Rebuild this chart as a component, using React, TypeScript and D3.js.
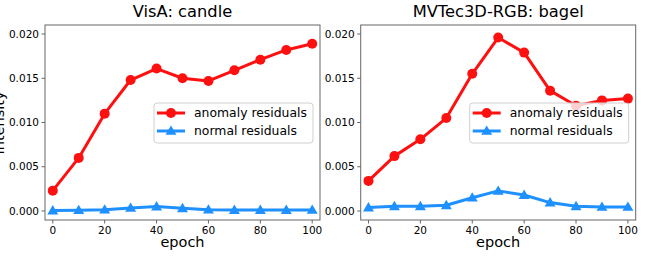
import React from 'react';
import * as d3 from 'd3';

// epochs shared by both panels
const epochs = [0, 10, 20, 30, 40, 50, 60, 70, 80, 90, 100];

// VisA: candle
const visaAnomaly = [0.0023, 0.0060, 0.0110, 0.0148, 0.0161, 0.0150, 0.0147, 0.0159, 0.0171, 0.0182, 0.0189];
const visaNormal = [0.00004, 0.00008, 0.00015, 0.00035, 0.0005, 0.0003, 0.00015, 0.0001, 0.0001, 0.0001, 0.00012];

// MVTec3D-RGB: bagel
const bagelAnomaly = [0.0034, 0.0062, 0.0081, 0.0105, 0.0155, 0.0196, 0.0179, 0.0136, 0.0119, 0.0125, 0.0127];
const bagelNormal = [0.00038, 0.00053, 0.00053, 0.00064, 0.0015, 0.00227, 0.0018, 0.00095, 0.00053, 0.00045, 0.00045];

const yTickValues = [0, 0.005, 0.01, 0.015, 0.02];
const xTickValues = [0, 20, 40, 60, 80, 100];
const legendLabels = ['anomaly residuals', 'normal residuals'];

const RED = '#ff1010';
const BLUE = '#1e90ff';
const AXIS = '#666';
const FONT = 'DejaVu Sans, sans-serif';

type PanelProps = {
  title: string;
  left: number;
  anomaly: number[];
  normal: number[];
};

const triangle = (cx: number, cy: number, s: number) =>
  `M${cx},${cy - s} L${cx + s},${cy + s * 0.7} L${cx - s},${cy + s * 0.7} Z`;

function Panel({ title, left, anomaly, normal }: PanelProps) {
  const width = 275;
  const top = 25;
  const bottom = 220;
  const right = left + width;

  const x = d3.scaleLinear().domain([-3, 103]).range([left, right]);
  const y = d3.scaleLinear().domain([-0.00102, 0.02102]).range([bottom, top]);
  const fmt = d3.format('.3f');

  const line = d3.line<number>()
    .x((d, i) => x(epochs[i]))
    .y(d => y(d));

  const lx = right - 166;
  const ly = 103;

  return (
    <g>
      <text x={(left + right) / 2} y={17} textAnchor="middle" fontSize={16.3} fontFamily={FONT}>{title}</text>

      {/* series */}
      <path d={line(anomaly) || ''} fill="none" stroke={RED} strokeWidth={3} strokeLinejoin="round" />
      {anomaly.map((d, i) => (
        <circle key={'a' + i} cx={x(epochs[i])} cy={y(d)} r={5} fill={RED} />
      ))}
      <path d={line(normal) || ''} fill="none" stroke={BLUE} strokeWidth={3} strokeLinejoin="round" />
      {normal.map((d, i) => (
        <path key={'n' + i} d={triangle(x(epochs[i]), y(d), 5.5)} fill={BLUE} />
      ))}

      {/* spines */}
      <rect x={left} y={top} width={width} height={bottom - top} fill="none" stroke={AXIS} strokeWidth={1} />

      {/* y axis */}
      {yTickValues.map(t => (
        <g key={t} transform={`translate(${left},${y(t)})`}>
          <line x1={-3.5} x2={0} stroke={AXIS} />
          <text x={-6} dy="0.35em" textAnchor="end" fontSize={10.5} fontFamily={FONT}>{fmt(t)}</text>
        </g>
      ))}

      {/* x axis */}
      {xTickValues.map(t => (
        <g key={t} transform={`translate(${x(t)},${bottom})`}>
          <line y1={0} y2={3.5} stroke={AXIS} />
          <text y={6} dy="0.76em" textAnchor="middle" fontSize={10.5} fontFamily={FONT}>{t}</text>
        </g>
      ))}
      <text x={(left + right) / 2} y={247} textAnchor="middle" fontSize={14.5} fontFamily={FONT}>epoch</text>

      {/* legend */}
      <rect x={lx} y={ly} width={159} height={40} rx={3} fill="white" fillOpacity={0.8} stroke="#d0d0d0" />
      {legendLabels.map((lab, i) => {
        const cy = ly + 10 + i * 18;
        return (
          <g key={lab}>
            <line x1={lx + 3} x2={lx + 31} y1={cy} y2={cy} stroke={i === 0 ? RED : BLUE} strokeWidth={3} />
            {i === 0
              ? <circle cx={lx + 17} cy={cy} r={5} fill={RED} />
              : <path d={triangle(lx + 17, cy, 5.5)} fill={BLUE} />}
            <text x={lx + 40} y={cy} dy="0.35em" fontSize={12.4} fontFamily={FONT}>{lab}</text>
          </g>
        );
      })}
    </g>
  );
}

export default function App() {
  return (
    <svg width={648} height={259} style={{ position: 'absolute', left: 0, top: 0, background: 'white' }}>
      {/* y label is cut at the left edge in the reference as well */}
      <text transform="translate(4,123) rotate(-90)" textAnchor="middle" fontSize={14.5} fontFamily={FONT}>Intensity</text>
      <Panel title="VisA: candle" left={45} anomaly={visaAnomaly} normal={visaNormal} />
      <Panel title="MVTec3D-RGB: bagel" left={360.7} anomaly={bagelAnomaly} normal={bagelNormal} />
    </svg>
  );
}
